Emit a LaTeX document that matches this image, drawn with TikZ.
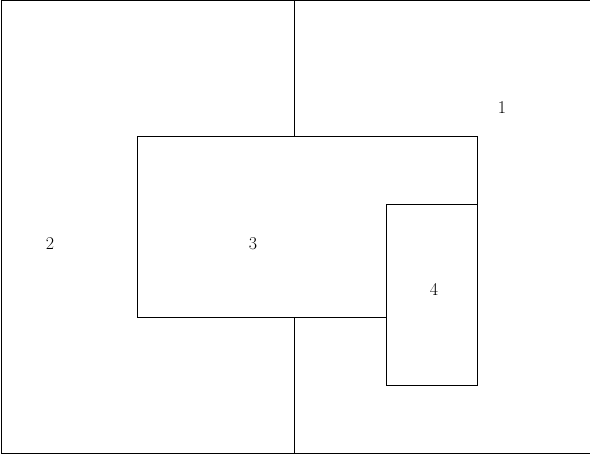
\documentclass[tikz,border=0pt]{standalone}
\begin{document}
\begin{tikzpicture}[x=1pt,y=-1pt,line width=1pt,
  lbl/.style={inner sep=0pt,font=\fontsize{18}{20}\selectfont}]
\useasboundingbox (0,0) rectangle (590,454);
\node[draw,inner sep=0pt,minimum width=589pt,minimum height=453pt,anchor=north west] (outer) at (0.5,0.5) {};
\node[draw,inner sep=0pt,minimum width=340pt,minimum height=181pt,anchor=north west] (r3) at (136.5,136.5) {};
\node[draw,fill=white,inner sep=0pt,minimum width=91pt,minimum height=181pt,anchor=north west] (r4) at (385.5,204.5) {};
\coordinate (t) at (294.5,0.5);
\coordinate (tb) at (294.5,136.5);
\coordinate (b) at (294.5,453.5);
\coordinate (bt) at (294.5,317.5);
\draw (t) -- (tb);
\draw (bt) -- (b);
\node[lbl] (l1) at (502,108) {1};
\node[lbl] (l2) at (50,244) {2};
\node[lbl] (l3) at (253,244) {3};
\node[lbl] (l4) at (434,289) {4};
\end{tikzpicture}
\end{document}
